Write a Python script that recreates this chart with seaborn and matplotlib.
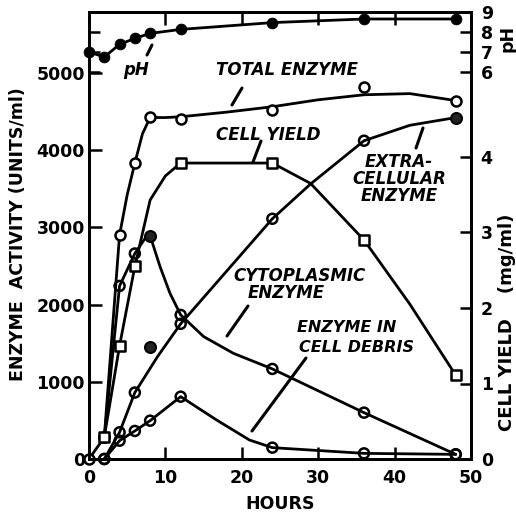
import matplotlib
matplotlib.use("Agg")
import matplotlib.pyplot as plt
import seaborn as sns

# ---------------- data ----------------
# pH
ph_hours = [0, 2, 4, 6, 8, 12, 24, 36, 48]
ph_values = [7.0, 6.75, 7.38, 7.68, 7.93, 8.13, 8.47, 8.65, 8.65]

# total enzyme (units/ml): measured points and drawn curve
total_hours = [0, 2, 4, 6, 8, 12, 24, 36, 48]
total_units = [0, 280, 2900, 3830, 4430, 4400, 4520, 4820, 4640]
total_curve_hours = [0, 2, 4, 5, 6, 7, 8, 10, 12, 18, 24, 30, 36, 42, 48]
total_curve_units = [0, 280, 2900, 3420, 3830, 4210, 4420, 4420, 4430, 4490, 4560, 4650, 4715, 4730, 4640]

# cytoplasmic enzyme
cyto_hours = [2, 4, 6, 12, 24, 36, 48]
cyto_units = [280, 2240, 2660, 1865, 1166, 600, 60]
cyto_curve_hours = [2, 4, 6, 7.5, 8, 9.3, 10.6, 12, 15, 18.9, 24, 36, 48]
cyto_curve_units = [280, 2240, 2660, 2880, 2890, 2490, 2145, 1865, 1585, 1368, 1166, 600, 60]

# extracellular enzyme
extra_hours = [2, 4, 6, 12, 24, 36]
extra_units = [0, 346, 860, 1750, 3110, 4120]
extra_curve_hours = [2, 4, 6, 9, 12, 24, 29, 36, 42, 48]
extra_curve_units = [0, 346, 860, 1330, 1750, 3110, 3560, 4120, 4320, 4420]

# solid (dark) points
solid_hours = [8, 8, 48]
solid_units = [1450, 2890, 4420]

# enzyme in cell debris
debris_hours = [2, 4, 6, 8, 12, 24, 36, 48]
debris_units = [0, 237, 363, 496, 807, 147, 73, 60]
debris_curve_hours = [2, 4, 6, 8, 12, 16.7, 21, 24, 36, 48]
debris_curve_units = [0, 237, 363, 496, 807, 505, 246, 147, 73, 60]

# cell yield (mg/ml)
cell_hours = [2, 4, 6, 12, 24, 36, 48]
cell_yield = [0.29, 1.50, 2.55, 3.92, 3.92, 2.90, 1.11]
cell_curve_hours = [2, 4, 6, 8, 10, 12, 24, 29, 36, 42, 48]
cell_curve_yield = [0.29, 1.50, 2.55, 3.43, 3.75, 3.92, 3.92, 3.65, 2.90, 2.05, 1.11]

enzyme_ticks = [0, 1000, 2000, 3000, 4000, 5000]
hour_ticks = [0, 10, 20, 30, 40, 50]
yield_ticks = [0, 1, 2, 3, 4]
ph_ticks = [6, 7, 8, 9]

# ---------------- style ----------------
sns.set_theme(style="ticks")
plt.rcParams['font.family'] = ['DejaVu Sans']
plt.rcParams['font.weight'] = 'bold'
plt.rcParams['axes.linewidth'] = 2.0
for key in ('text.color', 'axes.labelcolor', 'xtick.color', 'ytick.color', 'axes.edgecolor'):
    plt.rcParams[key] = 'black'

W, H = 516, 512
fig = plt.figure(figsize=(W / 100, H / 100), dpi=100)
L, R, T, B = 89, 471, 12, 459
ax = fig.add_axes([L / W, 1 - B / H, (R - L) / W, (B - T) / H])
ax_cy = ax.twinx()
ax_ph = ax.twinx()

LW = 2.0
MS = 52
# ---- lines ----
sns.lineplot(x=total_curve_hours, y=total_curve_units, ax=ax, color='black', lw=LW, estimator=None)
sns.lineplot(x=cyto_curve_hours, y=cyto_curve_units, ax=ax, color='black', lw=LW, estimator=None)
sns.lineplot(x=extra_curve_hours, y=extra_curve_units, ax=ax, color='black', lw=LW, estimator=None)
sns.lineplot(x=debris_curve_hours, y=debris_curve_units, ax=ax, color='black', lw=LW, estimator=None)
sns.lineplot(x=cell_curve_hours, y=cell_curve_yield, ax=ax_cy, color='black', lw=LW, estimator=None)
sns.lineplot(x=ph_hours, y=ph_values, ax=ax_ph, color='black', lw=LW, estimator=None)

# ---- markers ----
hollow = dict(facecolor='none', edgecolor='black', linewidth=1.8, s=MS, zorder=4, clip_on=False)
for hx, hy in [(cyto_hours, cyto_units), (extra_hours, extra_units), (debris_hours, debris_units)]:
    sns.scatterplot(x=hx, y=hy, ax=ax, marker='o', **hollow)
sns.scatterplot(x=solid_hours, y=solid_units, ax=ax, marker='o', color='#222222',
                edgecolor='black', linewidth=1.5, s=MS + 10, zorder=5, clip_on=False)
sns.scatterplot(x=total_hours, y=total_units, ax=ax, marker='o', color='white',
                edgecolor='black', linewidth=1.8, s=MS, zorder=5, clip_on=False)
sns.scatterplot(x=cell_hours, y=cell_yield, ax=ax_cy, marker='s', color='white',
                edgecolor='black', linewidth=1.8, s=MS, zorder=5, clip_on=False)
sns.scatterplot(x=ph_hours, y=ph_values, ax=ax_ph, marker='o', color='black',
                edgecolor='black', s=MS + 8, zorder=5, clip_on=False)

# ---------------- axes ----------------
ax.set_xlim(0, 50)
ax.set_ylim(0, (B - T) / 77.25 * 1000)
ax_cy.set_ylim(0, (B - T) / 75.5)
ax_ph.set_ylim(9 - (B - T) / 20.0, 9)

ax.set_xticks(hour_ticks)
ax.set_xticklabels([str(v) for v in hour_ticks])
ax.set_yticks(enzyme_ticks)
ax.set_yticklabels([str(v) for v in enzyme_ticks])
ax.tick_params(axis='both', direction='in', length=9, width=1.8, labelsize=12.5, top=True, right=False)
ax.tick_params(axis='x', pad=7)
ax.tick_params(axis='y', pad=3)

ax_cy.set_yticks(yield_ticks)
ax_cy.set_yticklabels([str(v) for v in yield_ticks])
ax_cy.tick_params(axis='y', direction='in', length=8, width=1.8, labelsize=12.5, pad=7)

ax_ph.set_yticks(ph_ticks)
ax_ph.set_yticklabels([str(v) for v in ph_ticks])
ax_ph.tick_params(axis='y', direction='in', length=8, width=1.8, labelsize=12.5, pad=7,
                  left=True, right=True, labelleft=False, labelright=True)

for a in (ax, ax_cy, ax_ph):
    for s in a.spines.values():
        s.set_linewidth(2.0)
        s.set_color('black')
    a.set_xlabel('')
    a.set_ylabel('')

ax.set_xlabel('HOURS', fontsize=12.5, fontweight='bold', labelpad=6)
ax.set_ylabel('ENZYME  ACTIVITY (UNITS/ml)', fontsize=12.5, fontweight='bold', va='center')
ax.yaxis.set_label_coords((18 - L) / (R - L), (B - 234) / (B - T))
ax_cy.set_ylabel('CELL YIELD    (mg/ml)', fontsize=13, fontweight='bold', va='center')
ax_cy.yaxis.set_label_coords((507 - L) / (R - L), (B - 322) / (B - T))
ax_ph.set_ylabel('pH', fontsize=12.5, fontweight='bold', va='center')
ax_ph.yaxis.set_label_coords((507 - L) / (R - L), (B - 38) / (B - T))

# ---------------- curve labels ----------------
def px(xp, yp):
    return ((xp - L) / ((R - L) / 50.0), (B - yp) / 0.07725)

lab = dict(fontsize=12, fontweight='bold', style='italic', ha='center', va='center')
ax.text(*px(136, 70), 'pH', **lab)
ax.text(*px(287, 70), 'TOTAL ENZYME', **lab)
ax.text(*px(268, 135), 'CELL YIELD', **lab)
ax.text(*px(399, 179), 'EXTRA-\nCELLULAR\nENZYME', linespacing=0.95, **lab)
ax.text(*px(300, 276), 'CYTOPLASMIC', **lab)
ax.text(*px(286, 293), 'ENZYME', **lab)
lab_small = dict(lab, fontsize=11.5)
ax.text(*px(347, 328), 'ENZYME IN', **lab_small)
ax.text(*px(356, 347), 'CELL DEBRIS', **lab_small)

leader = dict(arrowstyle='-', lw=2.2, color='black', shrinkA=0, shrinkB=0)
for (x1, y1), (x2, y2) in [((147, 55), (152, 45)), ((232, 105), (242, 88)),
                           ((253, 162), (261, 141)), ((416, 148), (423, 128)),
                           ((248, 306), (227, 336)), ((252, 431), (306, 358))]:
    ax.annotate('', xy=px(x2, y2), xytext=px(x1, y1), arrowprops=leader)

fig.savefig('out.png', dpi=100)
